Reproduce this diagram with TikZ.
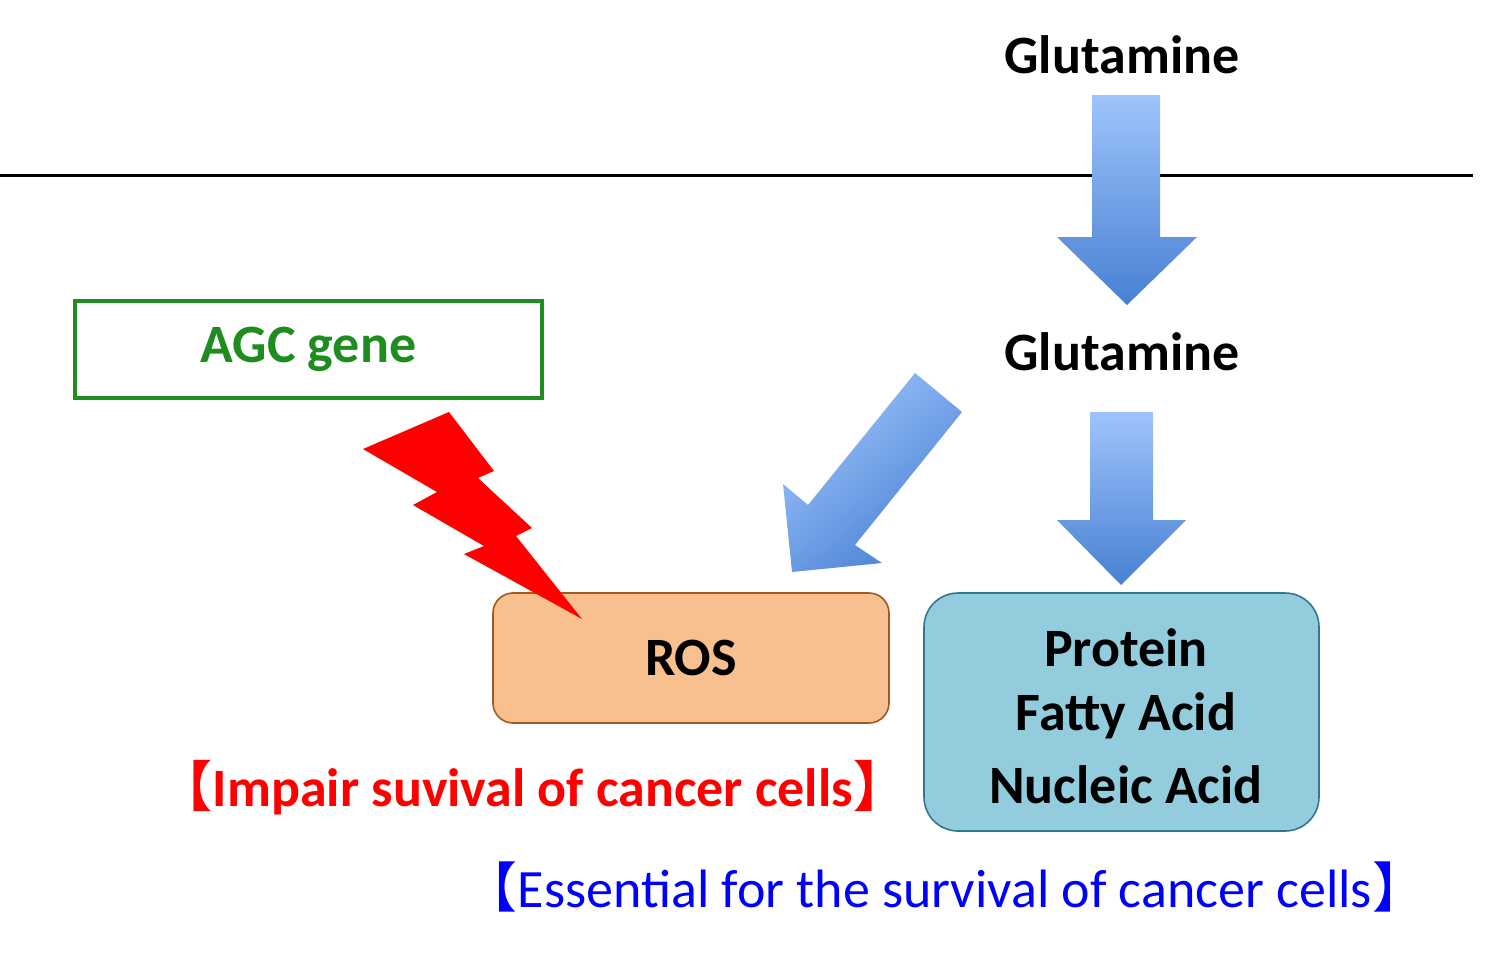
\documentclass[tikz,border=0pt]{standalone}
\usepackage{fontspec}
\setmainfont{Carlito}
\newfontfamily\cjk{Noto Sans CJK SC}
\begin{document}
\begin{tikzpicture}[x=0.5pt,y=-0.5pt,
  lbl/.style={font=\fontsize{27pt}{32pt}\selectfont\bfseries},
  barrow/.style={top color=blue!20!cyan!30!white!80!blue, bottom color=blue!55!cyan!70!black!90!white, draw=none},
  barrow/.style={top color={rgb,255:red,158;green,196;blue,252}, bottom color={rgb,255:red,72;green,128;blue,210}, draw=none}]
\useasboundingbox (0,0) rectangle (1500,955);
\draw[line width=1.5pt] (0,175) -- (1473,175);
\node[lbl] (g1) at (1122,55) {Glutamine};
\node[lbl] (g2) at (1122,352) {Glutamine};
\shade[barrow] (1092,95) -- (1160,95) -- (1160,237) -- (1197,237) -- (1127,305) -- (1057,237) -- (1092,237) -- cycle;
\shade[barrow] (1090,412) -- (1153,412) -- (1153,520) -- (1186,520) -- (1121,585) -- (1057,520) -- (1090,520) -- cycle;
\shade[barrow, shading angle=40] (915,373) -- (962,412) -- (855,545) -- (882,563) -- (792,572) -- (783,484) -- (808,505) -- cycle;
\node[draw={rgb,255:red,30;green,140;blue,30}, line width=2pt, minimum width=233.5pt, minimum height=48.5pt, lbl, text={rgb,255:red,30;green,140;blue,30}] (agc) at (308.5,349.5) {AGC gene};
\node[draw={rgb,255:red,160;green,90;blue,30}, line width=0.8pt, fill={rgb,255:red,249;green,192;blue,143}, rounded corners=10pt, minimum width=198pt, minimum height=65pt, lbl] (ros) at (691,658) {ROS};
\node[draw={rgb,255:red,49;green,120;blue,140}, line width=0.8pt, fill={rgb,255:red,147;green,205;blue,221}, rounded corners=17pt, minimum width=197.5pt, minimum height=119pt, lbl, align=center] (prot) at (1121.5,712) {};
\node[lbl] (p1) at (1126,648) {Protein};
\node[lbl] (p2) at (1126,716) {Fatty Acid};
\node[lbl] (p3) at (1126,785) {Nucleic Acid};
\fill[red] (363,449) -- (449,412) -- (494,471) -- (478,478) -- (532,528) -- (516,536) -- (582,619) -- (464,554) -- (484,546) -- (413,505) -- (437,492) -- cycle;
\node[lbl, text=red] (imp) at (533,788) {{\cjk 【}Impair suvival of cancer cells{\cjk 】}};
\node[font=\fontsize{27pt}{32pt}\selectfont, text=blue] (ess) at (945,887) {{\cjk 【}Essential for the survival of cancer cells{\cjk 】}};
\end{tikzpicture}
\end{document}
